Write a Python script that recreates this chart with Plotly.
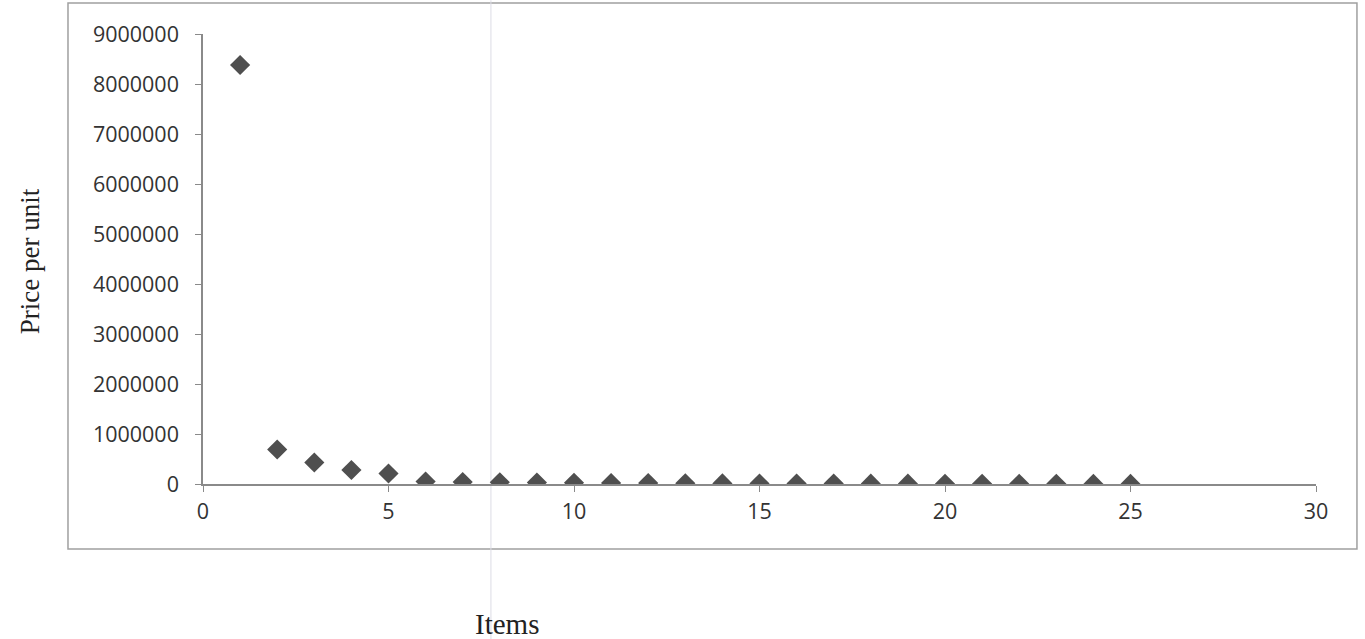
import plotly.graph_objects as go

items = list(range(1, 26))
price = [8380000, 690000, 430000, 280000, 210000, 50000, 40000, 35000, 30000,
         25000, 20000, 18000, 15000, 12000, 10000, 9000, 8000, 7000, 6000,
         5000, 4000, 3500, 3000, 2500, 2000]
x_ticks = [0, 5, 10, 15, 20, 25, 30]
y_ticks = [0, 1000000, 2000000, 3000000, 4000000, 5000000, 6000000, 7000000, 8000000, 9000000]

fig = go.Figure()
fig.add_trace(go.Scatter(
    x=items, y=price, mode="markers",
    marker=dict(symbol="diamond", size=15.5, color="#4f4f4f", line=dict(width=0)),
    showlegend=False,
))

tick_font = dict(family="Open Sans, Liberation Sans, sans-serif", size=21.5, color="#333333")
fig.update_xaxes(range=[0, 30], tickvals=x_ticks, ticktext=[str(v) for v in x_ticks],
                 showgrid=False, zeroline=False, showline=True, linecolor="#8a8a8a",
                 linewidth=1.5, ticks="outside", ticklen=6, tickcolor="#8a8a8a",
                 tickfont=tick_font, ticklabelstandoff=1)
fig.update_yaxes(range=[0, 9000000], tickvals=y_ticks, ticktext=[str(v) for v in y_ticks],
                 showgrid=False, zeroline=False, showline=True, linecolor="#8a8a8a",
                 linewidth=1.5, ticks="outside", ticklen=6, tickcolor="#8a8a8a",
                 tickfont=tick_font, ticklabelstandoff=12)

# outer chart border
fig.add_shape(type="rect", xref="paper", yref="paper",
              x0=-0.1213, x1=1.0368, y0=-0.1444, y1=1.069,
              line=dict(color="#a0a0a0", width=1.5), layer="below")
# faint vertical scan line
fig.add_shape(type="line", xref="paper", yref="paper",
              x0=0.2587, x1=0.2587, y0=-0.345, y1=1.075,
              line=dict(color="#dcdce6", width=1), layer="below")

fig.add_annotation(text="Price per unit", xref="paper", yref="paper",
                   x=-0.1554, y=0.495, textangle=-90, showarrow=False,
                   font=dict(family="Liberation Serif, Times New Roman, serif", size=27, color="#222222"),
                   xanchor="center", yanchor="middle")
fig.add_annotation(text="Items", xref="paper", yref="paper",
                   x=0.2732, y=-0.31, showarrow=False,
                   font=dict(family="Liberation Serif, Times New Roman, serif", size=29, color="#222222"),
                   xanchor="center", yanchor="middle")

fig.update_layout(
    width=1365, height=639,
    margin=dict(l=203, r=49, t=34, b=155),
    paper_bgcolor="white", plot_bgcolor="white",
)
fig.write_html("out.html", config={"displayModeBar": False},
               post_script="document.body.style.margin='0';document.body.style.overflow='hidden';")
